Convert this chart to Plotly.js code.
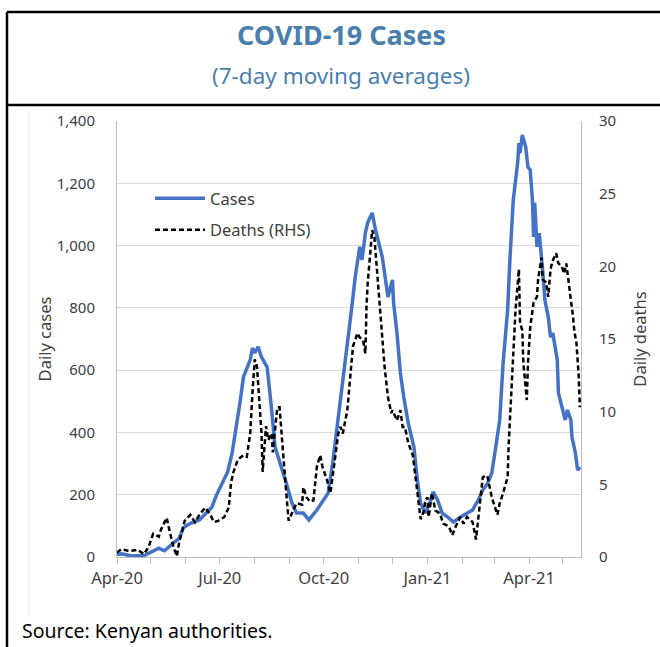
<!DOCTYPE html>
<html>
<head>
<meta charset="utf-8">
<script src="https://cdn.plot.ly/plotly-3.0.1.min.js"></script>
<style>
  html, body { margin: 0; padding: 0; background: #ffffff; }
  #chart { width: 660px; height: 647px; }
</style>
</head>
<body>
<div id="chart"></div>
<script>
// ---- Data ----
const caseDates = ['2020-04-01','2020-04-05','2020-04-14','2020-04-26','2020-05-08','2020-05-13','2020-05-21','2020-05-26','2020-05-30','2020-06-05','2020-06-13','2020-06-17','2020-06-24','2020-06-28','2020-07-03','2020-07-08','2020-07-12','2020-07-16','2020-07-19','2020-07-22','2020-07-25','2020-07-28','2020-07-30','2020-08-01','2020-08-04','2020-08-07','2020-08-12','2020-08-13','2020-08-16','2020-08-19','2020-08-22','2020-08-26','2020-08-29','2020-09-03','2020-09-07','2020-09-13','2020-09-18','2020-09-25','2020-09-30','2020-10-05','2020-10-09','2020-10-13','2020-10-17','2020-10-20','2020-10-23','2020-10-26','2020-10-29','2020-10-31','2020-11-02','2020-11-04','2020-11-07','2020-11-09','2020-11-13','2020-11-16','2020-11-18','2020-11-22','2020-11-24','2020-11-27','2020-12-01','2020-12-02','2020-12-05','2020-12-08','2020-12-11','2020-12-15','2020-12-20','2020-12-23','2020-12-26','2020-12-30','2021-01-03','2021-01-06','2021-01-10','2021-01-14','2021-01-19','2021-01-24','2021-01-30','2021-02-05','2021-02-10','2021-02-15','2021-02-19','2021-02-23','2021-02-27','2021-03-03','2021-03-06','2021-03-09','2021-03-13','2021-03-15','2021-03-18','2021-03-22','2021-03-23','2021-03-24','2021-03-26','2021-03-29','2021-03-31','2021-04-02','2021-04-04','2021-04-05','2021-04-06','2021-04-08','2021-04-10','2021-04-13','2021-04-15','2021-04-18','2021-04-20','2021-04-22','2021-04-26','2021-04-27','2021-04-30','2021-05-03','2021-05-05','2021-05-08','2021-05-09','2021-05-12','2021-05-14','2021-05-16'];
const caseValues = [8,10,3,6,28,20,45,60,95,108,119,135,160,198,237,273,334,424,498,578,607,633,671,655,675,642,610,578,472,353,318,279,237,173,141,141,119,151,177,205,300,417,527,610,706,803,899,944,996,954,1040,1073,1105,1050,1018,963,912,835,890,816,719,591,514,430,353,247,173,141,173,209,183,141,128,112,128,141,151,183,215,235,270,366,440,623,793,954,1146,1270,1329,1297,1355,1317,1252,1243,1146,1028,1137,996,1040,922,825,771,706,719,633,527,482,440,472,440,385,334,279,289];

const deathDates = ['2020-04-01','2020-04-05','2020-04-12','2020-04-19','2020-04-25','2020-04-29','2020-05-03','2020-05-08','2020-05-10','2020-05-15','2020-05-18','2020-05-21','2020-05-24','2020-05-26','2020-05-31','2020-06-05','2020-06-09','2020-06-13','2020-06-18','2020-06-22','2020-06-26','2020-06-30','2020-07-05','2020-07-09','2020-07-11','2020-07-13','2020-07-17','2020-07-22','2020-07-25','2020-07-28','2020-07-30','2020-08-01','2020-08-03','2020-08-05','2020-08-07','2020-08-08','2020-08-11','2020-08-13','2020-08-16','2020-08-17','2020-08-21','2020-08-23','2020-08-25','2020-08-28','2020-08-31','2020-09-03','2020-09-07','2020-09-12','2020-09-13','2020-09-16','2020-09-19','2020-09-22','2020-09-25','2020-09-28','2020-09-30','2020-10-04','2020-10-07','2020-10-11','2020-10-14','2020-10-16','2020-10-18','2020-10-22','2020-10-25','2020-10-27','2020-10-31','2020-11-02','2020-11-05','2020-11-07','2020-11-08','2020-11-09','2020-11-11','2020-11-13','2020-11-15','2020-11-17','2020-11-20','2020-11-22','2020-11-24','2020-11-27','2020-11-30','2020-12-01','2020-12-05','2020-12-08','2020-12-10','2020-12-12','2020-12-15','2020-12-19','2020-12-21','2020-12-24','2020-12-26','2020-12-29','2020-12-30','2021-01-01','2021-01-02','2021-01-05','2021-01-08','2021-01-12','2021-01-15','2021-01-20','2021-01-23','2021-01-26','2021-01-30','2021-02-02','2021-02-05','2021-02-08','2021-02-10','2021-02-13','2021-02-16','2021-02-19','2021-02-23','2021-02-27','2021-03-04','2021-03-06','2021-03-09','2021-03-13','2021-03-14','2021-03-17','2021-03-20','2021-03-23','2021-03-24','2021-03-26','2021-03-27','2021-03-30','2021-03-31','2021-04-02','2021-04-05','2021-04-08','2021-04-09','2021-04-12','2021-04-13','2021-04-16','2021-04-18','2021-04-20','2021-04-22','2021-04-25','2021-04-27','2021-04-30','2021-05-02','2021-05-04','2021-05-06','2021-05-08','2021-05-10','2021-05-11','2021-05-13','2021-05-15','2021-05-16'];
const deathValues = [0.3,0.55,0.4,0.5,0.2,0.7,1.6,1.4,1.9,2.7,1.65,0.7,0.05,0.96,2.5,2.9,2.4,2.9,3.4,3.0,2.4,2.5,2.75,3.4,5.1,5.8,6.7,7.0,6.9,8.5,11.3,13.6,13.1,10.8,8.5,5.85,9.0,8.05,8.5,7.2,10.3,10.3,8.05,5.3,2.5,3.0,3.7,3.6,4.8,4.1,3.8,3.9,6.2,7.0,6.2,5.3,4.4,6.7,8.5,8.95,8.5,10.1,12.7,14.5,15.4,15.1,14.9,14.0,17.2,18.8,20.6,22.5,22.0,20.0,16.8,14.9,13.1,11.0,9.9,10.1,9.4,10.1,8.95,8.95,7.85,7.0,5.8,3.7,2.6,3.2,3.9,4.1,2.75,4.4,3.2,3.0,2.3,2.1,1.5,2.1,2.75,2.3,2.75,2.55,2.4,1.2,3.2,5.5,5.6,4.1,2.9,3.7,4.4,5.5,7.85,12.4,17.0,19.8,16.1,15.6,13.3,10.8,13.3,15.8,17.5,17.9,19.1,20.6,19.1,18.9,17.9,19.8,20.4,20.9,20.2,20.0,19.5,20.2,19.1,17.7,16.5,15.6,14.7,12.4,10.3];

const seriesNames = ['Cases', 'Deaths (RHS)'];
const xTickVals = ['2020-04-01','2020-07-01','2020-10-01','2021-01-01','2021-04-01'];
const xTickText = ['Apr-20','Jul-20','Oct-20','Jan-21','Apr-21'];
const leftTicks = [0,200,400,600,800,1000,1200,1400];
const rightTicks = [0,5,10,15,20,25,30];

// ---- Chart ----
const FONT = '"Noto Sans", "Open Sans", sans-serif';
const TXT = '#404040';
const GRID = '#d9d9d9';
const AX = '#bfbfbf';

// pixel -> paper helpers for decorations (plot area: x 117..581, y 121..557)
const PL = 117, PR = 581, PT = 121, PB = 557;
const px = v => (v - PL) / (PR - PL);
const py = v => (PB - v) / (PB - PT);

const traces = [
  {
    x: caseDates, y: caseValues, name: seriesNames[0], type: 'scatter', mode: 'lines',
    line: { color: '#4472C4', width: 3.5 }, yaxis: 'y', legendgroup: 'a'
  },
  {
    x: deathDates, y: deathValues, name: seriesNames[1], type: 'scatter', mode: 'lines',
    line: { color: '#000000', width: 2.5, dash: '5px,3px' }, yaxis: 'y2', legendgroup: 'b'
  }
];

const layout = {
  width: 660, height: 647,
  margin: { l: PL, r: 660 - PR, t: PT, b: 647 - PB, pad: 0 },
  paper_bgcolor: '#ffffff', plot_bgcolor: '#ffffff',
  font: { family: FONT, color: TXT, size: 15 },
  showlegend: true,
  legend: {
    x: px(150), y: py(181), xanchor: 'left', yanchor: 'top',
    bgcolor: 'rgba(255,255,255,0)', borderwidth: 0,
    font: { size: 16.5, color: TXT, family: FONT },
    traceorder: 'grouped', tracegroupgap: 7, itemwidth: 50
  },
  xaxis: {
    type: 'date',
    range: ['2020-04-01', '2021-05-17'],
    tickmode: 'array', tickvals: xTickVals, ticktext: xTickText,
    ticks: 'outside', ticklen: 6, tickcolor: AX, tickwidth: 1,
    minor: { dtick: 'M1', tick0: '2020-04-01', ticks: 'outside', ticklen: 6, tickcolor: AX, tickwidth: 1, showgrid: false },
    showgrid: false, showline: true, linecolor: AX, linewidth: 1,
    zeroline: false,
    tickfont: { size: 16.5, color: TXT, family: FONT },
    fixedrange: true
  },
  yaxis: {
    range: [0, 1400], tickmode: 'array', tickvals: leftTicks,
    tickformat: ',d',
    showgrid: true, gridcolor: GRID, gridwidth: 1,
    showline: true, linecolor: AX, linewidth: 1,
    zeroline: false, ticks: '',
    ticklabelstandoff: 18,
    tickfont: { size: 15, color: TXT, family: FONT },
    title: { text: 'Daily cases', font: { size: 16.5, color: TXT, family: FONT }, standoff: 0 },
    fixedrange: true
  },
  yaxis2: {
    overlaying: 'y', side: 'right',
    range: [0, 30], tickmode: 'array', tickvals: rightTicks,
    showgrid: false, showline: true, linecolor: AX, linewidth: 1,
    zeroline: false, ticks: '',
    ticklabelstandoff: 14,
    tickfont: { size: 15, color: TXT, family: FONT },
    title: { text: 'Daily deaths', font: { size: 16.5, color: TXT, family: FONT }, standoff: 19 },
    fixedrange: true
  },
  annotations: [
    { text: '<b>COVID-19 Cases</b>', xref: 'paper', yref: 'paper', x: px(341), y: py(35),
      xanchor: 'center', yanchor: 'middle', showarrow: false,
      font: { size: 27, color: '#4a7fad', family: FONT } },
    { text: '(7-day moving averages)', xref: 'paper', yref: 'paper', x: px(341), y: py(75),
      xanchor: 'center', yanchor: 'middle', showarrow: false,
      font: { size: 22.5, color: '#4a7fad', family: FONT } },
    { text: 'Source: Kenyan authorities.', xref: 'paper', yref: 'paper', x: px(20), y: py(630),
      xanchor: 'left', yanchor: 'middle', showarrow: false,
      font: { size: 19.5, color: '#000000', family: FONT } }
  ],
  shapes: [
    // outer frame (top and left edges) and title divider
    { type: 'line', xref: 'paper', yref: 'paper', x0: px(7), x1: px(662), y0: py(12), y1: py(12), line: { color: '#000000', width: 2.5 } },
    { type: 'line', xref: 'paper', yref: 'paper', x0: px(7), x1: px(7), y0: py(12), y1: py(650), line: { color: '#000000', width: 2.5 } },
    { type: 'line', xref: 'paper', yref: 'paper', x0: px(7), x1: px(662), y0: py(105), y1: py(105), line: { color: '#000000', width: 2.5 } },
    // faint chart-area edge
    { type: 'line', xref: 'paper', yref: 'paper', x0: px(29), x1: px(29), y0: py(108), y1: py(618), line: { color: '#eeeeee', width: 1 } }
  ]
};

Plotly.newPlot('chart', traces, layout, { displayModeBar: false, staticPlot: true });
</script>
</body>
</html>
